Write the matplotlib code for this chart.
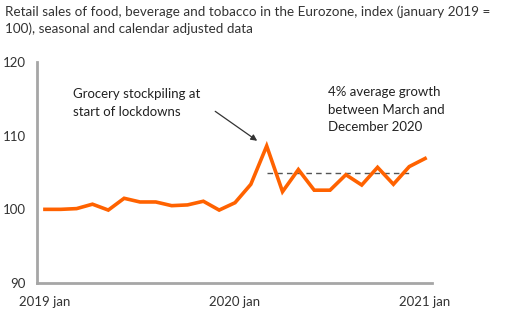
import numpy as np
import matplotlib.pyplot as plt
import matplotlib as mpl

# monthly index, jan 2019 = 100
months = ['2019-01', '2019-02', '2019-03', '2019-04', '2019-05', '2019-06',
          '2019-07', '2019-08', '2019-09', '2019-10', '2019-11', '2019-12',
          '2020-01', '2020-02', '2020-03', '2020-04', '2020-05', '2020-06',
          '2020-07', '2020-08', '2020-09', '2020-10', '2020-11', '2020-12',
          '2021-01']
sales = [100.0, 100.0, 100.1, 100.7, 99.9, 101.5, 101.0, 101.0, 100.5, 100.6,
         101.1, 99.9, 100.9, 103.4, 108.6, 102.4, 105.4, 102.6, 102.6, 104.7,
         103.3, 105.7, 103.4, 105.8, 106.9]
avg_start, avg_end = '2020-03', '2020-12'
avg_level = 104.9
tick_months = ['2019-01', '2020-01', '2021-01']
tick_labels = ['2019 jan', '2020 jan', '2021 jan']
yticks = [90, 100, 110, 120]

orange = '#FF6200'
grey = '#A6A6A6'
txt = '#333333'

mpl.rcParams['font.family'] = ['Lato', 'DejaVu Sans']

fig = plt.figure(figsize=(5.17, 3.33), dpi=100)
ax = fig.add_axes([0.0716, 0.150, 0.7644, 0.664])

x = np.arange(len(months))
ax.plot(x, sales, color=orange, lw=2.6, solid_joinstyle='miter', zorder=3)

i0, i1 = months.index(avg_start), months.index(avg_end)
ax.plot([i0, i1], [avg_level, avg_level], color='#555555', lw=1.0,
        ls=(0, (4, 3)), zorder=2)

ax.set_xlim(-0.5, 24.45)
ax.set_ylim(90, 120)
ax.set_yticks(yticks)
ax.set_yticklabels([str(v) for v in yticks])
ax.set_xticks([months.index(m) for m in tick_months])
ax.set_xticklabels(tick_labels)
ax.tick_params(length=0, labelsize=9.5, labelcolor=txt, pad=9)
ax.tick_params(axis='y', pad=8)

for s in ['top', 'right']:
    ax.spines[s].set_visible(False)
for s in ['left', 'bottom']:
    ax.spines[s].set_color(grey)
    ax.spines[s].set_linewidth(2)

fig.text(0.01, 0.985, 'Retail sales of food, beverage and tobacco in the Eurozone, index (january 2019 =\n100), seasonal and calendar adjusted data',
         ha='left', va='top', fontsize=9.7, color=txt, linespacing=1.45)

ax.text(1.75, 116.4, 'Grocery stockpiling at\nstart of lockdowns',
        fontsize=9.5, color='#222222', va='top', ha='left', linespacing=1.55)
ax.annotate('', xy=(13.4, 109.3), xytext=(10.75, 113.3),
            arrowprops=dict(arrowstyle='-|>', color='#333333', lw=0.9,
                            shrinkA=0, shrinkB=0, mutation_scale=9))

ax.text(17.9, 116.7, '4% average growth\nbetween March and\nDecember 2020',
        fontsize=9.5, color='#222222', va='top', ha='left', linespacing=1.55)

plt.savefig('out.png', dpi=100)
